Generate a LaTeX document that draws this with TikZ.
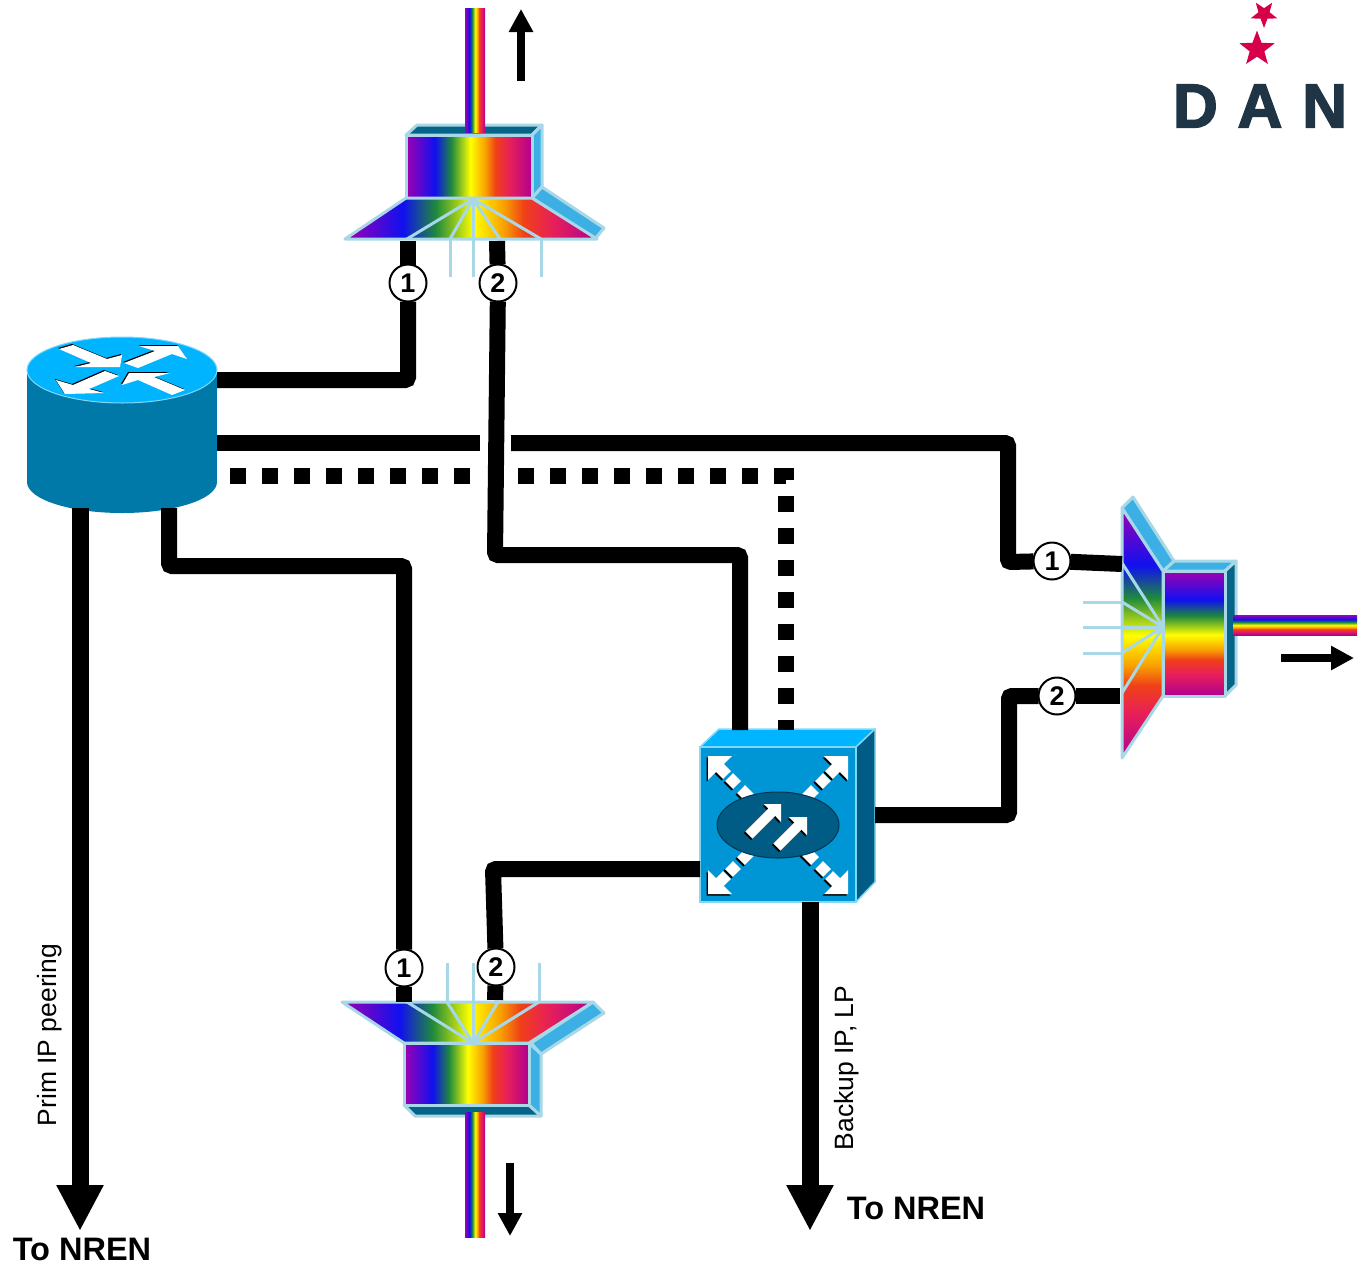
\documentclass[tikz,border=0pt]{standalone}
\usepackage{fontspec}
\setmainfont{Liberation Sans}
\newfontfamily\danfont[LetterSpace=32,BoldFeatures={FakeBold=2.5}]{Liberation Sans}
\usetikzlibrary{arrows.meta,shapes.geometric}
\definecolor{rbPurple}{HTML}{A000B0}
\definecolor{rbBlue}{HTML}{1010F0}
\definecolor{rbGreen}{HTML}{1F8A3C}
\definecolor{rbYellow}{HTML}{FFFF00}
\definecolor{rbOrange}{HTML}{F8A000}
\definecolor{rbRed}{HTML}{F04018}
\definecolor{rbCrimson}{HTML}{E82058}
\definecolor{rbMagenta}{HTML}{B00090}
\definecolor{muxEdge}{HTML}{A8D8E8}
\definecolor{muxLight}{HTML}{3CB0E4}
\definecolor{muxDark}{HTML}{066488}
\definecolor{rtSide}{HTML}{0078A8}
\definecolor{rtTop}{HTML}{00B4FF}
\definecolor{swFront}{HTML}{0095D4}
\definecolor{swSide}{HTML}{005C84}
\definecolor{swEdge}{HTML}{80D8F8}
\definecolor{logoRed}{HTML}{D6004A}
\definecolor{logoBlue}{HTML}{1F3545}
\pgfdeclarehorizontalshading{rainbow}{100bp}{color(0bp)=(rbPurple); color(25bp)=(rbPurple); color(36.5bp)=(rbBlue); color(43bp)=(rbGreen); color(50.5bp)=(rbYellow); color(56.5bp)=(rbOrange); color(60.5bp)=(rbRed); color(66bp)=(rbCrimson); color(75bp)=(rbMagenta); color(100bp)=(rbMagenta)}
\tikzset{
  link/.style={line width=16,rounded corners=3},
  dotlink/.style={line width=16,dash pattern=on 16pt off 16pt},
  exitlink/.style={line width=17,-{Triangle[length=46pt,width=44pt]}},
  flowarrow/.style={line width=8,-{Triangle[length=23pt,width=23pt]}},
  badge/.style={circle,draw=black,fill=white,line width=2,minimum size=37,inner sep=0,outer sep=0,font=\fontsize{27}{27}\selectfont\bfseries},
  muxline/.style={draw=muxEdge,line width=3,line join=round},
  hrainbow/.style={shading=rainbow,shading angle=0},
  vrainbow/.style={shading=rainbow,shading angle=270},
  fibre/.style={draw=muxEdge,line width=3},
  nren/.style={font=\fontsize{32.5}{33}\selectfont\bfseries},
  sidelabel/.style={rotate=90,font=\fontsize{26.5}{30}\selectfont},
  logostar/.style={star,star points=5,star point ratio=2.4,fill=logoRed,inner sep=0}
}
\newcommand{\rtarrow}[1]{\fill[black,shift={(-1,-1)}] #1 -- cycle; \fill[white] #1 -- cycle;}
\begin{document}
\begin{tikzpicture}[x=1pt,y=-1pt]
\useasboundingbox (0,0) rectangle (1370,1267);
% router
\fill[rtSide] (27,370) rectangle (217,482);
\fill[rtSide] (122,482) ellipse [x radius=95,y radius=31];
\draw[fill=rtTop,draw=swEdge,line width=1] (122,370) ellipse [x radius=95,y radius=33];
\rtarrow{(59,349) -- (73,345) -- (107,359) -- (122,355) -- (120,367) -- (75,367) -- (91,363)}
\rtarrow{(124,363) -- (155,351) -- (139,346) -- (178,346) -- (187,359) -- (172,354) -- (138,368)}
\rtarrow{(73,385) -- (105,371) -- (119,376) -- (89,389) -- (104,393) -- (65,394) -- (56,380)}
\rtarrow{(122,385) -- (129,373) -- (170,373) -- (154,377) -- (185,390) -- (172,395) -- (138,380)}
% switch
\draw[fill=rtTop,draw=swEdge,line width=1.5,line join=round] (700,747) -- (719,729) -- (875,729) -- (856,747) -- cycle;
\draw[fill=swSide,draw=swEdge,line width=1.5,line join=round] (856,747) -- (875,729) -- (875,882) -- (856,902) -- cycle;
\draw[fill=swFront,draw=swEdge,line width=1.5] (700,747) rectangle (856,902);
\foreach \col/\dx/\dy in {black/-1.5/1.5,white/0/0} {
  \foreach \sx/\sy in {-1/-1,1/-1,-1/1,1/1} {
    \begin{scope}[shift={(778+\dx,825+\dy)},xscale=\sx,yscale=\sy]
      \fill[\col] (70,69) -- (46,69) -- (70,45) -- cycle;
      \draw[\col,line width=11] (62,61) -- (51,50);
      \draw[\col,line width=11] (49,48) -- (41,40);
      \draw[\col,line width=11] (37,36) -- (26,25);
    \end{scope}
  }
}
\draw[fill=swSide,draw=black!40!swSide,line width=1] (778,825) ellipse [x radius=61,y radius=33];
\foreach \col/\dx/\dy in {black/-1.5/1.5,white/0/0} {
  \begin{scope}[shift={(\dx,\dy)}]
    \fill[\col] (764,804) -- (781,804) -- (781,822) -- cycle;
    \draw[\col,line width=10] (749,835) -- (775,809);
    \fill[\col] (789,817) -- (807,817) -- (807,835) -- cycle;
    \draw[\col,line width=10] (777,847) -- (801,823);
  \end{scope}
}
% top mux
\draw[muxline,fill=muxDark] (406,135) -- (417,125) -- (542,125) -- (532,135) -- cycle;
\shade[hrainbow] (465,8) rectangle (485,132);
\draw[muxline,fill=muxLight] (532,135) -- (542,125) -- (542,187) -- (532,198) -- cycle;
\draw[muxline,fill=muxLight] (532,198) -- (542,187) -- (604,228) -- (595,239) -- cycle;
\shadedraw[muxline,hrainbow] (406,135) rectangle (532,198);
\shadedraw[muxline,hrainbow] (345,239) -- (406,198) -- (532,198) -- (597,239) -- cycle;
\foreach \xa in {407,450,473,500,541} {
  \draw[fibre] (473,199) -- (\xa,239);
}
\foreach \xa in {450,473,541} {
  \draw[fibre] (\xa,239) -- (\xa,277);
}
\draw[flowarrow] (521,81) -- (521,9);
% bottom mux
\draw[muxline,fill=muxDark] (404,1105) -- (415,1116) -- (541,1116) -- (529,1105) -- cycle;
\shade[hrainbow] (465,1112) rectangle (485,1237);
\draw[muxline,fill=muxLight] (529,1043) -- (541,1054) -- (541,1116) -- (529,1105) -- cycle;
\draw[muxline,fill=muxLight] (593,1002) -- (604,1013) -- (541,1054) -- (531,1043) -- cycle;
\shadedraw[muxline,hrainbow] (404,1043) rectangle (529,1105);
\shadedraw[muxline,hrainbow] (342,1002) -- (404,1043) -- (529,1043) -- (593,1002) -- cycle;
\foreach \xa in {407,447,473,498,539} {
  \draw[fibre] (473,1043) -- (\xa,1002);
}
\foreach \xa in {447,473,539} {
  \draw[fibre] (\xa,1002) -- (\xa,963);
}
\draw[flowarrow] (510,1163) -- (510,1236);
% right mux
\draw[muxline,fill=muxLight] (1163,571) -- (1174,561) -- (1236,561) -- (1225,571) -- cycle;
\draw[muxline,fill=muxDark] (1225,571) -- (1236,561) -- (1236,685) -- (1225,696) -- cycle;
\shade[vrainbow] (1233,615) rectangle (1357,635);
\draw[muxline,fill=muxLight] (1122,508) -- (1133,497) -- (1174,561) -- (1163,571) -- cycle;
\shadedraw[muxline,vrainbow] (1163,571) rectangle (1225,696);
\shadedraw[muxline,vrainbow] (1122,508) -- (1163,571) -- (1163,696) -- (1122,758) -- cycle;
\foreach \ya in {563,602,627,653,693} {
  \draw[fibre] (1163,627) -- (1122,\ya);
}
\foreach \ya in {602,627,653} {
  \draw[fibre] (1122,\ya) -- (1083,\ya);
}
\draw[flowarrow] (1281,658) -- (1354,658);
% numbered ports
\node[badge] (top1) at (408,283) {1};
\node[badge] (top2) at (498,283) {2};
\node[badge] (right1) at (1052,561) {1};
\node[badge] (right2) at (1057,696) {2};
\node[badge] (bot1) at (404,968) {1};
\node[badge] (bot2) at (496,967) {2};
% end points and bends
\coordinate (rtA) at (217,380);
\coordinate (rtB) at (217,443);
\coordinate (rtC) at (230,476);
\coordinate (rtD) at (169,508);
\coordinate (rtE) at (80,508);
\coordinate (gapBL) at (480,443);
\coordinate (gapBR) at (511,443);
\coordinate (gapCL) at (470,476);
\coordinate (gapCR) at (518,476);
\coordinate (topP1) at (408,241);
\coordinate (topP2) at (497,241);
\coordinate (botP1) at (404,1002);
\coordinate (botP2) at (495,1000);
\coordinate (rightP1) at (1122,564);
\coordinate (rightP2) at (1120,696);
\coordinate (swTopA) at (740,730);
\coordinate (swTopB) at (786,730);
\coordinate (swLeft) at (700,869);
\coordinate (swRight) at (875,815);
\coordinate (swBot) at (810,902);
\coordinate (bendA) at (495,555);
\coordinate (bendB) at (1008,562);
\coordinate (bendC) at (493,869);
\coordinate (bendD) at (1009,696);
\coordinate (bendE) at (786,476);
\coordinate (nrenA) at (80,1231);
\coordinate (nrenB) at (810,1231);
% connectors
\draw[link] (rtA) -| (top1);
\draw[link] (top1) -- (topP1);
\draw[link] (top2) -- (topP2);
\draw[link] (top2) -- (bendA) -| (swTopA);
\draw[link] (rtB) -- (gapBL);
\draw[link] (gapBR) -| (bendB) -- (right1);
\draw[link] (right1) -- (rightP1);
\draw[dotlink] (rtC) -- (gapCL);
\draw[dotlink] (gapCR) -- (bendE) -- (swTopB);
\draw[link] (rtD) |- (404,566) -- (bot1);
\draw[link] (bot1) -- (botP1);
\draw[link] (swLeft) -- (bendC) -- (bot2);
\draw[link] (bot2) -- (botP2);
\draw[link] (swRight) -| (bendD) -- (right2);
\draw[link] (right2) -- (rightP2);
\draw[exitlink] (rtE) -- (nrenA);
\draw[exitlink] (swBot) -- (nrenB);
% labels
\node[sidelabel] (primlabel) at (50,1035) {Prim IP peering};
\node[sidelabel] (backuplabel) at (847,1068) {Backup IP, LP};
\node[nren] (nren1) at (82,1249) {To NREN};
\node[nren] (nren2) at (916,1208) {To NREN};
% logo
\node[logostar,minimum size=28,rotate=180] (star1) at (1264,14) {};
\node[logostar,minimum size=37] (star2) at (1257,49) {};
\node[text=logoBlue,font=\danfont\fontsize{62}{62}\selectfont\bfseries] (danlogo) at (1260,106) {DAN};
\end{tikzpicture}
\end{document}
